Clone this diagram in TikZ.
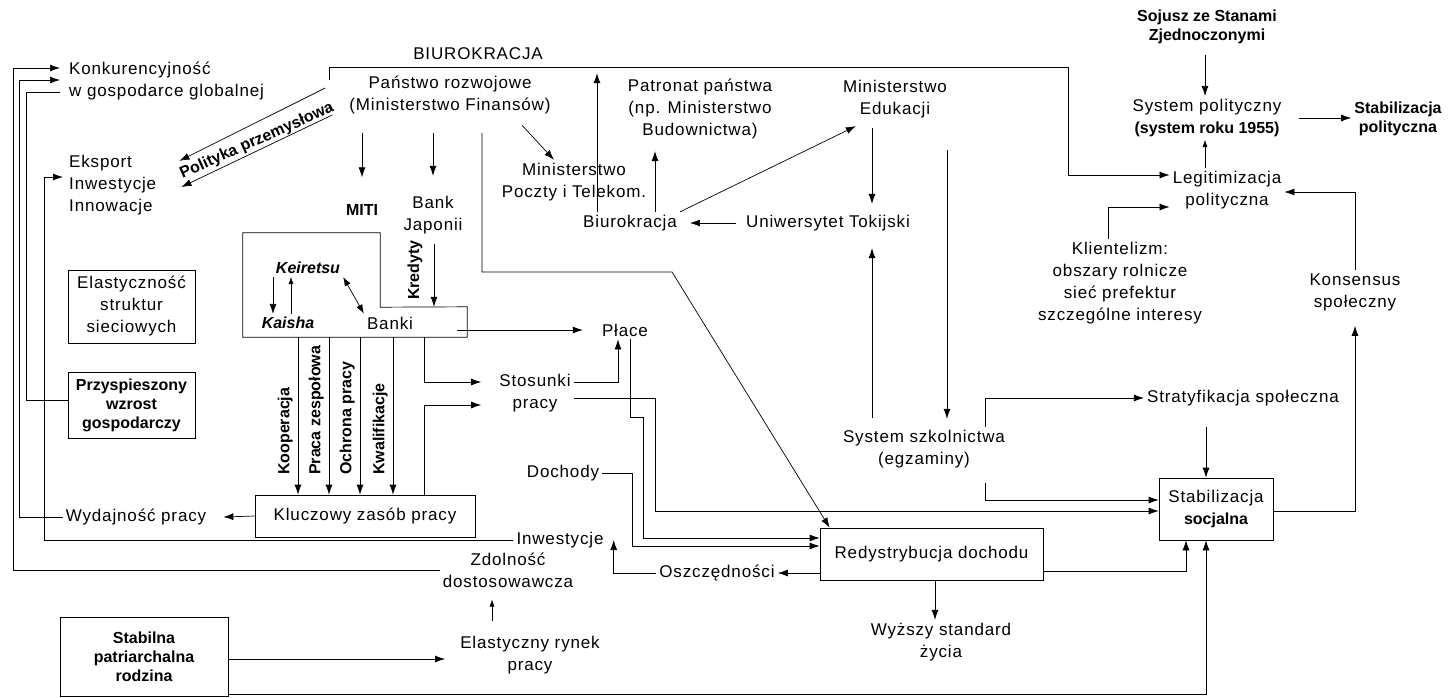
\documentclass[tikz,border=0pt]{standalone}
\usepackage{fontspec}
\setmainfont{Liberation Sans}[LetterSpace=5]
\newfontfamily\heavyfam{Liberation Sans}
\usetikzlibrary{arrows.meta,calc}
\newcommand\txtf{\fontsize{17}{22}\selectfont}
\newcommand\hvf{\heavyfam\bfseries\fontsize{16}{19}\selectfont}
\begin{document}
\begin{tikzpicture}[x=1pt,y=-1pt,
  lbl/.style={font=\txtf, align=center, inner sep=3pt},
  hv/.style={font=\hvf, align=center, inner sep=3pt},
  boxed/.style={draw, line width=0.7pt},
  ln/.style={line width=0.7pt},
  arr/.style={line width=0.7pt, -{Latex[length=10pt,width=7pt]}},
  arrs/.style={line width=0.45pt, -{Latex[length=7pt,width=5pt]}},
  darr/.style={line width=0.7pt, {Latex[length=9pt,width=6.5pt]}-{Latex[length=9pt,width=6.5pt]}},
]
\fill[white] (0,0) rectangle (1455,698);
\useasboundingbox (0,0) rectangle (1455,698);

% ---------- left column ----------
\node[lbl, anchor=west, inner xsep=9pt, align=left] (konk) at (60,81) {Konkurencyjność\\w gospodarce globalnej};
\node[lbl, anchor=west, inner xsep=6pt, align=left] (eksp) at (63,185) {Eksport\\Inwestycje\\Innowacje};
\node[lbl, boxed, minimum width=127pt, minimum height=73pt] (elast) at (131.5,306.5) {Elastyczność\\struktur\\sieciowych};
\node[hv, boxed, minimum width=127pt, minimum height=66pt] (przysp) at (131.5,405.5) {Przyspieszony\\wzrost\\gospodarczy};
\node[lbl] (wyd) at (136,517) {Wydajność pracy};
\node[lbl, boxed, minimum width=220pt, minimum height=42pt] (klucz) at (365,516) {Kluczowy zasób pracy};
\node[hv, boxed, minimum width=168pt, minimum height=79pt] (stabrodz) at (144,656.5) {Stabilna\\patriarchalna\\rodzina};

% ---------- state and bureaucracy ----------
\node[lbl] (biurotop) at (478,54) {BIUROKRACJA};
\coordinate (brk) at (329,80);
\node[lbl] (panstwo) at (450,95) {Państwo rozwojowe\\(Ministerstwo Finansów)};
\node[hv] (miti) at (362,210) {MITI};
\node[lbl] (bank) at (433,215) {Bank\\Japonii};
\node[lbl] (minpoczta) at (574,182) {Ministerstwo\\Poczty i Telekom.};
\node[lbl] (patronat) at (700,109) {Patronat państwa\\(np. Ministerstwo\\Budownictwa)};
\node[lbl] (minedu) at (895,99) {Ministerstwo\\Edukacji};
\coordinate (edutail) at (947,150);
\node[lbl] (biur) at (630,223) {Biurokracja};
\node[lbl] (uniw) at (828,223) {Uniwersytet Tokijski};
\node[hv, rotate=24] (polit) at (257,141) {Polityka przemysłowa};

% ---------- company group ----------
\node[inner sep=0, minimum width=137pt, minimum height=74pt] (ktop) at (311.5,270) {};
\node[inner sep=0, minimum width=224pt, minimum height=30pt] (kbase) at (355,322) {};
\draw[ln] (ktop.north west) -- (ktop.north east) -- (ktop.south east) -- (kbase.north east)
  -- (kbase.south east) -- (kbase.south west) -- cycle;
\node[font=\hvf\itshape, inner sep=3pt] (keir) at (308,268) {Keiretsu};
\node[font=\hvf\itshape, inner sep=3pt] (kaisha) at (288,323) {Kaisha};
\node[lbl] (banki) at (390,323) {Banki};
\node[hv, rotate=90] (kred) at (415,270) {Kredyty};

% ---------- labour and income ----------
\node[lbl] (place) at (625,330) {Płace};
\node[lbl] (stos) at (535,393) {Stosunki\\pracy};
\node[lbl] (dochody) at (563,473) {Dochody};
\node[lbl] (inwest) at (560,540) {Inwestycje};
\node[lbl] (oszcz) at (717,573) {Oszczędności};
\node[lbl] (zdol) at (508,570) {Zdolność\\dostosowawcza};
\node[lbl] (elryn) at (530,655) {Elastyczny rynek\\pracy};
\node[lbl, boxed, minimum width=223pt, minimum height=52pt] (redys) at (931.5,554) {Redystrybucja dochodu};
\node[lbl] (wyzszy) at (941,642) {Wyższy standard\\życia};

% ---------- right side ----------
\node[hv] (sojusz) at (1207,27) {Sojusz ze Stanami\\Zjednoczonymi};
\node[lbl] (syspol) at (1207,118) {System polityczny\\{\hvf (system roku 1955)}};
\node[hv] (stabpol) at (1398,119) {Stabilizacja\\polityczna};
\node[lbl] (legit) at (1227,190) {Legitimizacja\\polityczna};
\node[lbl] (klient) at (1120,283) {Klientelizm:\\obszary rolnicze\\sieć prefektur\\szczególne interesy};
\node[lbl] (kons) at (1355,292) {Konsensus\\społeczny};
\node[lbl] (strat) at (1243,398) {Stratyfikacja społeczna};
\node[lbl] (szkol) at (924,449) {System szkolnictwa\\(egzaminy)};
\node[lbl, boxed, minimum width=114pt, minimum height=62pt] (stabsoc) at (1216,509) {Stabilizacja\\{\hvf socjalna}};

% ---------- feedback lines on the left ----------
\draw[arr] (zdol.west) -| (13,68) -- (konk.west |- 0,68);
\draw[arr] (wyd.west) -| (19,80) -- (konk.west |- 0,80);
\draw[ln] ([yshift=5pt]przysp.west) -| (26,92) -- (konk.west |- 0,92);
\draw[arr] (inwest.west) -| (44,177) -- (eksp.west |- 0,177);

% ---------- industrial policy ----------
\draw[arr] ([shift={(-21pt,7pt)}]panstwo.west) -- ([shift={(17pt,-9pt)}]eksp.north east);
\draw[arr] ([shift={(-14pt,-20pt)}]panstwo.west) -- ([shift={(19pt,-2pt)}]eksp.east);

% ---------- bureaucracy ----------
\draw[arr] (brk) -- (329,67) -- (1068,67) |- ([yshift=15pt]legit.west);
\draw[arr] ([yshift=-16pt]panstwo.south -| miti.north) -- ([yshift=24pt]miti.north);
\draw[arr] ([yshift=-16pt]panstwo.south -| bank.north) -- ([yshift=17pt]bank.north);
\draw[arr] ([shift={(72pt,-8pt)}]panstwo.south) -- ([xshift=-20pt]minpoczta.north);
\draw[arr] ([yshift=-16pt]panstwo.south -| 482,0) -- (482,272) -- (672,272) -- ([xshift=10pt]redys.north west);
\draw[arr] (biur.north -| 597,0) -- ([yshift=-10pt]biurotop.south -| 597,0);
\draw[arr] (biur.north -| 655,0) -- ([yshift=-9pt]patronat.south -| 655,0);
\draw[arr] (biur.north east) -- ([xshift=16pt,yshift=-5pt]minedu.south west);
\draw[arr] ([xshift=-7pt]uniw.west) -- ([xshift=10pt]biur.east);
\draw[arr] ([yshift=-7pt]minedu.south -| 872,0) -- ([yshift=8pt]uniw.north -| 872,0);
\draw[arr] ([yshift=9pt]szkol.north -| 872,0) -- ([yshift=-14pt]uniw.south -| 872,0);
\draw[arr] (edutail) -- ([yshift=8pt]szkol.north -| 947,0);

% ---------- company group links ----------
\draw[arr] (keir.south -| 273,0) -- (kaisha.north -| 273,0);
\draw[arrs] (kaisha.north -| 291,0) -- (keir.south -| 291,0);
\draw[darr] (keir.south east) -- (banki.north west);
\draw[arr] ([yshift=-7pt]bank.south -| 434,0) -- (kbase.north -| 434,0);
\foreach \x/\t/\n in {298/Kooperacja/koop, 329/Praca zespołowa/praca, 360/Ochrona pracy/ochr, 393/Kwalifikacje/kwal} {
  \draw[arr] (kbase.south -| \x,0) -- (klucz.north -| \x,0);
  \node[hv, rotate=90, anchor=south west, inner sep=2pt] (\n) at (\x-3,477) {\t};
}
\draw[arr] ([xshift=-10pt]kbase.east |- place.west) -- ([xshift=-16pt]place.west);
\draw[arr] (kbase.south -| 424,0) |- ([shift={(-15pt,11pt)}]stos.west);
\draw[arr] (klucz.north -| 424,0) |- ([shift={(-15pt,-12pt)}]stos.west);
\draw[arr] (klucz.west) -- ([xshift=14pt]wyd.east);

% ---------- wages, income, savings ----------
\draw[arr] ([yshift=11pt]stos.east) -| ([xshift=-7pt]place.south);
\draw[arr] ([xshift=5pt]place.south) |- (643,417) |- (redys.west |- 0,538);
\draw[arr] (dochody.east) -| (632,546) -- (redys.west |- 0,546);
\draw[arr] ([yshift=-5pt]stos.east) -| (655,511) -- (stabsoc.west |- 0,511);
\draw[arr] (redys.west |- 0,573) -- (oszcz.east);
\draw[arr] (oszcz.west) -| ([xshift=7pt]inwest.east);
\draw[arr] (redys.south -| 935,0) -- (wyzszy.north -| 935,0);
\draw[arr] ([yshift=-17pt]redys.east) -| ([xshift=-30pt]stabsoc.south);
\draw[arr] (stabrodz.east |- 0,659) -- ([xshift=-12pt]elryn.west |- 0,659);
\draw[arr] ([yshift=2pt]stabrodz.south east) -| ([xshift=-10pt]stabsoc.south);
\draw[arrs, shorten <=12pt, shorten >=9pt] (elryn.north -| 492,0) -- (zdol.south -| 492,0);

% ---------- politics and society ----------
\draw[arr] ([yshift=-8pt]sojusz.south -| 1205,0) -- (syspol.north -| 1205,0);
\draw[arr] ([xshift=14pt]syspol.east) -- (stabpol.west |- syspol.east);
\draw[arrs] (legit.north -| 1205,0) -- (syspol.south -| 1205,0);
\draw[arr] (klient.north -| 1108,0) |- ([yshift=-17pt]legit.west);
\draw[arr] (kons.north) |- ([yshift=-2pt]legit.east);
\draw[arr] ([yshift=-2pt]stabsoc.east) -| ([yshift=-12pt]kons.south);
\draw[arr] (szkol.north -| 985,0) |- (strat.west);
\draw[arr] ([yshift=-18pt]strat.south -| 1206,0) -- (stabsoc.north -| 1206,0);
\draw[arr] ([yshift=-12pt]szkol.south -| 985,0) |- ([yshift=9pt]stabsoc.west);
\end{tikzpicture}
\end{document}
